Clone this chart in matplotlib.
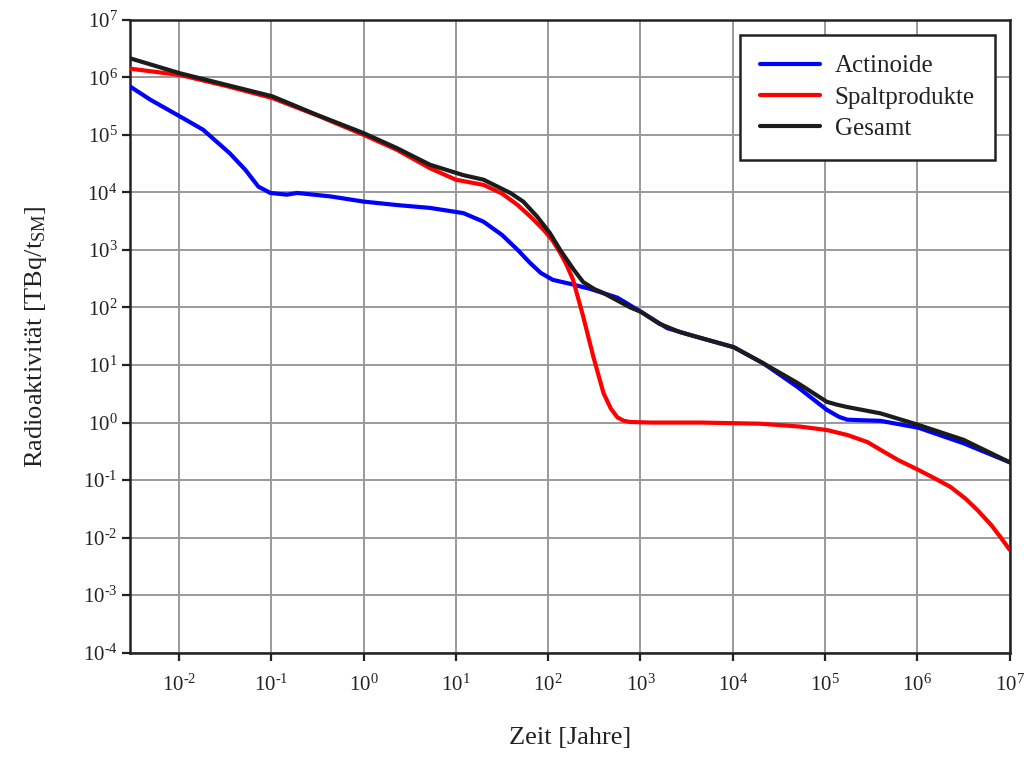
import matplotlib
matplotlib.use("Agg")
import matplotlib.pyplot as plt
import numpy as np
from matplotlib.ticker import FixedLocator, FixedFormatter, NullLocator

plt.rcParams["font.family"] = ["Liberation Serif", "DejaVu Serif"]
plt.rcParams["mathtext.fontset"] = "custom"
plt.rcParams["mathtext.rm"] = "Liberation Serif"
plt.rcParams["mathtext.it"] = "Liberation Serif:italic"

# values, as log10 exponents (x = years, y = TBq/tSM)
actinoide_logx = [-2.53, -2.31, -1.99, -1.74, -1.45, -1.28, -1.14, -1.01, -0.83, -0.72, -0.36,
                  0.0, 0.36, 0.72, 1.08, 1.30, 1.50, 1.67, 1.80, 1.92, 2.05, 2.24, 2.46, 2.75,
                  3.01, 3.29, 3.65, 4.01, 4.33, 4.70, 5.02, 5.15, 5.24, 5.40, 5.60, 6.01, 6.50, 7.0]
actinoide_logy = [5.84, 5.61, 5.32, 5.09, 4.68, 4.39, 4.10, 3.99, 3.96, 3.99, 3.93,
                  3.84, 3.78, 3.73, 3.64, 3.49, 3.26, 3.0, 2.78, 2.60, 2.48, 2.41, 2.32, 2.17,
                  1.92, 1.64, 1.47, 1.31, 1.03, 0.62, 0.22, 0.10, 0.05, 0.04, 0.03, -0.09, -0.36, -0.69]

spalt_logx = [-2.53, -1.99, -1.49, -0.99, -0.49, 0.0, 0.36, 0.72, 1.0, 1.30, 1.50, 1.67, 1.82,
              1.95, 2.05, 2.13, 2.20, 2.27, 2.38, 2.49, 2.60, 2.68, 2.75, 2.82, 2.89, 3.11,
              3.65, 4.30, 4.73, 5.02, 5.25, 5.46, 5.65, 5.79, 6.02, 6.20, 6.36, 6.52, 6.65,
              6.80, 6.90, 7.0]
spalt_logy = [6.15, 6.04, 5.85, 5.64, 5.33, 5.0, 4.74, 4.42, 4.22, 4.13, 3.98, 3.78, 3.56,
              3.35, 3.16, 2.95, 2.74, 2.48, 1.84, 1.14, 0.51, 0.24, 0.09, 0.03, 0.01, 0.0,
              0.0, -0.02, -0.07, -0.13, -0.22, -0.34, -0.52, -0.65, -0.83, -0.98, -1.12,
              -1.32, -1.52, -1.78, -1.99, -2.21]

gesamt_logx = [-2.53, -1.99, -1.49, -0.99, -0.51, 0.0, 0.36, 0.72, 1.08, 1.30, 1.59, 1.73,
               1.88, 2.02, 2.13, 2.28, 2.38, 2.50, 2.60, 2.89, 3.01, 3.20, 3.43, 3.70, 4.01,
               4.33, 4.70, 5.02, 5.13, 5.24, 5.60, 6.01, 6.50, 7.0]
gesamt_logy = [6.33, 6.07, 5.87, 5.67, 5.35, 5.03, 4.77, 4.48, 4.30, 4.22, 3.99, 3.84,
               3.58, 3.29, 3.0, 2.65, 2.44, 2.32, 2.25, 2.0, 1.92, 1.72, 1.57, 1.45, 1.31,
               1.03, 0.69, 0.36, 0.31, 0.27, 0.16, -0.04, -0.30, -0.69]

x_decades = [-2, -1, 0, 1, 2, 3, 4, 5, 6, 7]
y_decades = [-4, -3, -2, -1, 0, 1, 2, 3, 4, 5, 6, 7]

series = [
    ("Actinoide", actinoide_logx, actinoide_logy, "#0000ff"),
    ("Spaltprodukte", spalt_logx, spalt_logy, "#ff0000"),
    ("Gesamt", gesamt_logx, gesamt_logy, "#1c1c1c"),
]


def decade_label(d):
    # short hyphen like the original instead of a long math minus
    exp = str(d).replace("-", "\u2010")
    return r"$\mathregular{10^{%s}}$" % exp


fig = plt.figure(figsize=(10.24, 7.59), dpi=100)
ax = fig.add_axes([0.127, 0.140, 0.859, 0.834])

for label, lx, ly, color in series:
    ax.plot(np.power(10.0, lx), np.power(10.0, ly), color=color, lw=3.0, label=label,
            solid_capstyle="round", solid_joinstyle="round", zorder=3)

ax.set_xscale("log")
ax.set_yscale("log")
ax.set_xlim(10 ** -2.53, 1e7)
ax.set_ylim(1e-4, 1e7)

ax.xaxis.set_major_locator(FixedLocator([10.0 ** d for d in x_decades]))
ax.xaxis.set_major_formatter(FixedFormatter([decade_label(d) for d in x_decades]))
ax.yaxis.set_major_locator(FixedLocator([10.0 ** d for d in y_decades]))
ax.yaxis.set_major_formatter(FixedFormatter([decade_label(d) for d in y_decades]))
ax.xaxis.set_minor_locator(NullLocator())
ax.yaxis.set_minor_locator(NullLocator())

ax.grid(True, which="major", color="#9a9a9a", lw=1.4, zorder=1)
ax.tick_params(axis="both", direction="out", length=6, width=1.6, color="#222222",
               labelsize=15, labelcolor="#222222")
ax.tick_params(axis="x", pad=10)
ax.tick_params(axis="y", pad=3)
for spine in ax.spines.values():
    spine.set_color("#222222")
    spine.set_linewidth(1.8)

ax.set_xlabel("Zeit [Jahre]", fontsize=19, color="#222222", labelpad=22)
ax.set_ylabel(r"Radioaktivität [TBq/t$_{\mathregular{SM}}$]", fontsize=19, color="#222222",
              labelpad=24)

leg = ax.legend(loc="upper right", bbox_to_anchor=(0.983, 0.976), borderaxespad=0,
                fontsize=18, fancybox=False, framealpha=1, edgecolor="#222222",
                handlelength=2.4, handletextpad=0.6, labelspacing=0.35, borderpad=0.8)
leg.get_frame().set_linewidth(1.8)
for text in leg.get_texts():
    text.set_color("#222222")

fig.savefig("out.png", dpi=100)
